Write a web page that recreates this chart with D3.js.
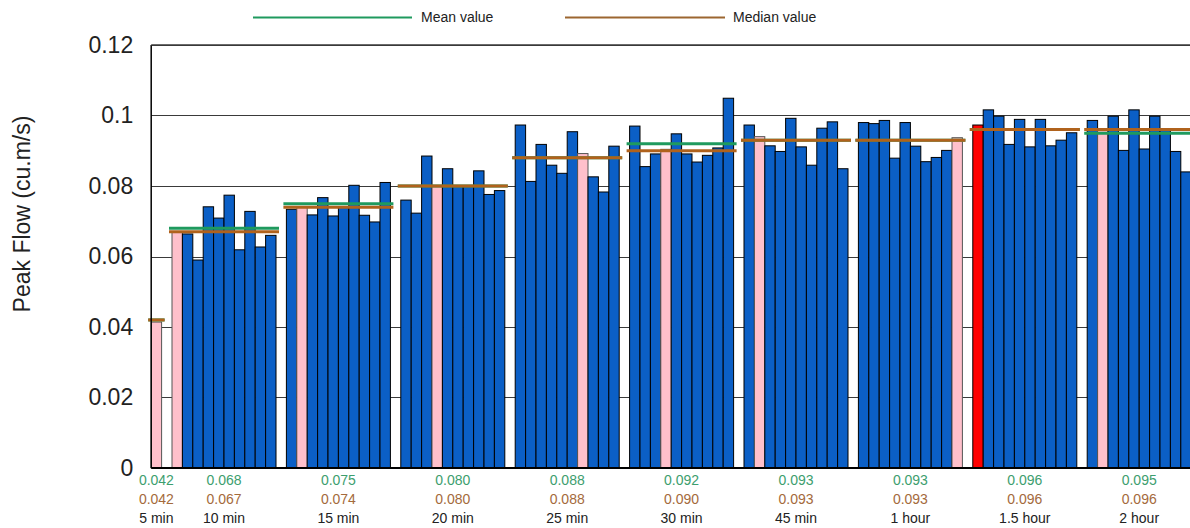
<!DOCTYPE html>
<html>
<head>
<meta charset="utf-8">
<script src="https://cdn.jsdelivr.net/npm/d3@7"></script>
<style>
  html, body { margin: 0; padding: 0; background: #fff; }
  svg { display: block; font-family: "Liberation Sans", Arial, sans-serif; }
</style>
</head>
<body>
<svg id="chart" width="1190" height="528"></svg>
<script>
// ---- data ----
const categories = ["5 min", "10 min", "15 min", "20 min", "25 min", "30 min", "45 min", "1 hour", "1.5 hour", "2 hour"];
const peakFlow5min   = [0.0414];
const peakFlow10min  = [0.0668, 0.0664, 0.0590, 0.0741, 0.0709, 0.0774, 0.0619, 0.0728, 0.0627, 0.0660];
const peakFlow15min  = [0.0734, 0.0740, 0.0718, 0.0767, 0.0715, 0.0741, 0.0802, 0.0717, 0.0698, 0.0810];
const peakFlow20min  = [0.0760, 0.0723, 0.0885, 0.0800, 0.0849, 0.0800, 0.0800, 0.0843, 0.0776, 0.0787];
const peakFlow25min  = [0.0973, 0.0813, 0.0918, 0.0859, 0.0836, 0.0954, 0.0892, 0.0826, 0.0783, 0.0913];
const peakFlow30min  = [0.0970, 0.0855, 0.0891, 0.0904, 0.0948, 0.0891, 0.0868, 0.0887, 0.0908, 0.1049];
const peakFlow45min  = [0.0973, 0.0940, 0.0914, 0.0898, 0.0992, 0.0911, 0.0859, 0.0964, 0.0982, 0.0849];
const peakFlow1h     = [0.0980, 0.0977, 0.0986, 0.0879, 0.0980, 0.0913, 0.0869, 0.0881, 0.0901, 0.0937];
const peakFlow1_5h   = [0.0973, 0.1016, 0.0998, 0.0918, 0.0989, 0.0911, 0.0989, 0.0914, 0.0930, 0.0951];
const peakFlow2h     = [0.0986, 0.0959, 0.0998, 0.0901, 0.1016, 0.0905, 0.0998, 0.0959, 0.0898, 0.0840];
const meanLabels   = ["0.042", "0.068", "0.075", "0.080", "0.088", "0.092", "0.093", "0.093", "0.096", "0.095"];
const medianLabels = ["0.042", "0.067", "0.074", "0.080", "0.088", "0.090", "0.093", "0.093", "0.096", "0.096"];
// index of the highlighted storm in each group and its kind ("median" = pink, "critical" = red)
const highlightIndex = [0, 0, 1, 3, 6, 3, 1, 9, 0, 1];
const highlightKind  = ["median", "median", "median", "median", "median", "median", "median", "median", "critical", "median"];
const yTicks = [0, 0.02, 0.04, 0.06, 0.08, 0.1, 0.12];
const yTickLabels = ["0", "0.02", "0.04", "0.06", "0.08", "0.1", "0.12"];
const yTitle = "Peak Flow (cu.m/s)";
const legendLabels = ["Mean value", "Median value"];

const groups = [peakFlow5min, peakFlow10min, peakFlow15min, peakFlow20min, peakFlow25min,
                peakFlow30min, peakFlow45min, peakFlow1h, peakFlow1_5h, peakFlow2h];

// ---- styles ----
const C = {
  blue: "#0b5fc6", pink: "#ffc0cb", red: "#ff0000",
  mean: "#1f9a5e", median: "#b0621c",
  meanText: "#3d9e6e", medianText: "#a46a3c",
  grid: "#3a3a3a", text: "#222"
};

// ---- layout: bars on a band scale of slots (one empty slot between groups) ----
const slots = [];
let s = 0;
groups.forEach((g, gi) => {
  const start = s;
  g.forEach((v, i) => slots.push({ gi, i, v, slot: s++ }));
  groups[gi].startSlot = start;
  groups[gi].endSlot = s - 1;
  s++; // gap slot
});
const nSlots = s - 1; // 100

const svg = d3.select("#chart");
const left = 151.2, slotW = 10.4;
const x = d3.scaleBand().domain(d3.range(nSlots)).range([left, left + nSlots * slotW]).padding(0);
const y = d3.scaleLinear().domain([0, 0.12]).range([468, 45]);
const right = left + nSlots * slotW;

// gridlines
svg.append("g").selectAll("line").data(yTicks.filter(t => t > 0)).join("line")
  .attr("x1", left).attr("x2", right)
  .attr("y1", d => Math.round(y(d)) + 0.5).attr("y2", d => Math.round(y(d)) + 0.5)
  .attr("stroke", C.grid).attr("stroke-width", 1);

// y axis labels
const yAxis = d3.axisLeft(y).tickValues(yTicks).tickSize(0).tickPadding(18)
  .tickFormat((d, i) => yTickLabels[i]);
const ya = svg.append("g").attr("transform", `translate(${left},0)`).call(yAxis);
ya.select(".domain").remove();
ya.selectAll("text").attr("font-size", 23).attr("fill", C.text)
  .attr("font-family", "Liberation Sans, Arial, sans-serif");

// y title
svg.append("text").attr("transform", "translate(30,214) rotate(-90)")
  .attr("text-anchor", "middle").attr("font-size", 23).attr("fill", C.text).text(yTitle);

// bars
svg.append("g").selectAll("rect").data(slots).join("rect")
  .attr("x", d => x(d.slot)).attr("width", x.bandwidth())
  .attr("y", d => y(d.v)).attr("height", d => y(0) - y(d.v))
  .attr("fill", d => d.i === highlightIndex[d.gi]
        ? (highlightKind[d.gi] === "critical" ? C.red : C.pink) : C.blue)
  .attr("stroke", d => (d.i === highlightIndex[d.gi] && highlightKind[d.gi] === "median") ? "#555" : "#000")
  .attr("stroke-width", 1);

// mean and median lines
const lineG = svg.append("g");
groups.forEach((g, gi) => {
  const x0 = x(g.startSlot) - 3, x1 = x(g.endSlot) + x.bandwidth() + 3;
  lineG.append("line").attr("x1", x0).attr("x2", x1)
    .attr("y1", y(+meanLabels[gi])).attr("y2", y(+meanLabels[gi]))
    .attr("stroke", C.mean).attr("stroke-width", 3);
  lineG.append("line").attr("x1", x0).attr("x2", x1)
    .attr("y1", y(+medianLabels[gi])).attr("y2", y(+medianLabels[gi]))
    .attr("stroke", C.median).attr("stroke-width", 3);
});

// plot frame: left, top, bottom
svg.append("line").attr("x1", left).attr("x2", left).attr("y1", y(0.12)).attr("y2", y(0))
  .attr("stroke", "#000").attr("stroke-width", 1.5);
svg.append("line").attr("x1", left).attr("x2", right).attr("y1", y(0.12)).attr("y2", y(0.12))
  .attr("stroke", C.grid).attr("stroke-width", 1.5);
svg.append("line").attr("x1", left).attr("x2", right).attr("y1", y(0)).attr("y2", y(0))
  .attr("stroke", "#000").attr("stroke-width", 2);

// bottom labels
const lab = svg.append("g").attr("text-anchor", "middle").attr("font-size", 14);
groups.forEach((g, gi) => {
  const cx = (x(g.startSlot) + x(g.endSlot) + x.bandwidth()) / 2;
  lab.append("text").attr("x", cx).attr("y", 485).attr("fill", C.meanText).text(meanLabels[gi]);
  lab.append("text").attr("x", cx).attr("y", 504).attr("fill", C.medianText).text(medianLabels[gi]);
  lab.append("text").attr("x", cx).attr("y", 523).attr("fill", C.text).text(categories[gi]);
});

// legend
const leg = svg.append("g").attr("font-size", 14).attr("fill", C.text);
leg.append("line").attr("x1", 253).attr("x2", 412).attr("y1", 17.5).attr("y2", 17.5)
  .attr("stroke", C.mean).attr("stroke-width", 2);
leg.append("text").attr("x", 421).attr("y", 22).text(legendLabels[0]);
leg.append("line").attr("x1", 565).attr("x2", 725).attr("y1", 17.5).attr("y2", 17.5)
  .attr("stroke", "#9c6630").attr("stroke-width", 2);
leg.append("text").attr("x", 733).attr("y", 22).text(legendLabels[1]);
</script>
</body>
</html>
